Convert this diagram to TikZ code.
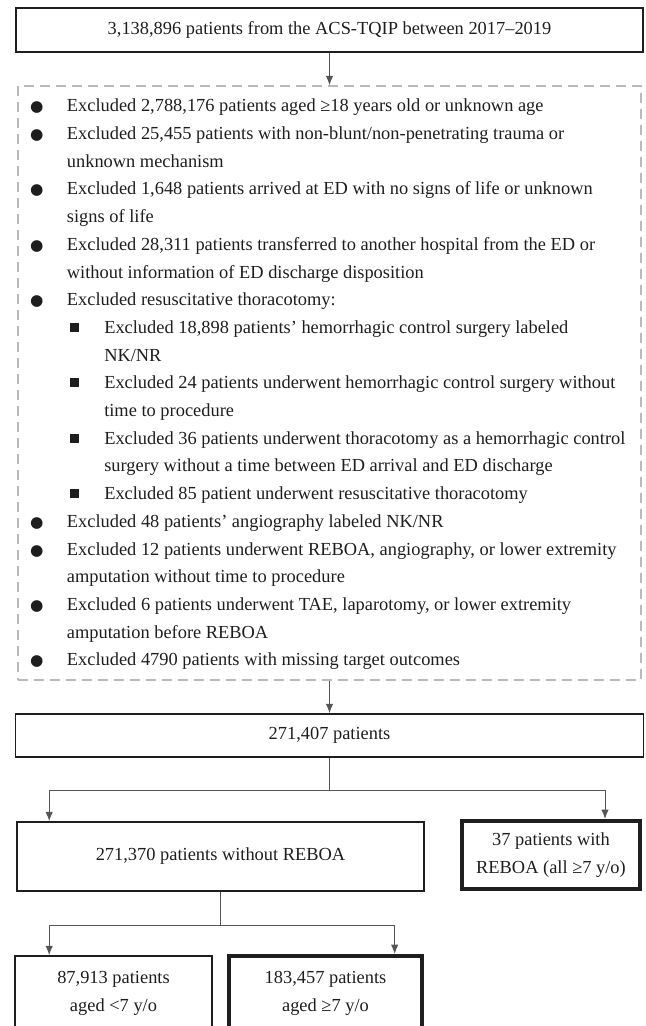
\documentclass[tikz,border=0pt]{standalone}
\usepackage{fontspec}
\setmainfont{Liberation Serif}
\newfontfamily\symfont{DejaVu Sans}
\usepackage{enumitem}
\usetikzlibrary{arrows.meta}

\definecolor{ink}{RGB}{30,30,30}
\definecolor{linegray}{RGB}{85,85,85}
\definecolor{dashgray}{RGB}{185,185,185}

\newcommand{\dotmark}{\makebox[8pt][c]{\symfont\fontsize{11.5}{12}\selectfont ●}}
\newcommand{\sqmark}{\makebox[8pt][c]{\rule[1pt]{6.8pt}{6.8pt}}}

\tikzset{
  box/.style={draw=ink, line width=1.2pt, rectangle, inner sep=0pt, align=center,
    text=ink, font={\fontsize{13.8}{21}\selectfont}},
  boldbox/.style={box, line width=3pt},
  exclbox/.style={draw=dashgray, line width=1.1pt, dash pattern=on 7.5pt off 4.5pt},
  link/.style={draw=linegray, line width=0.75pt},
  arr/.style={link, -{Latex[length=7pt,width=5.5pt]}},
}

\begin{document}
\begin{tikzpicture}[x=0.75pt, y={(0pt,-0.75pt)}]
  \useasboundingbox (0,0) rectangle (646,1026);

  % source and exclusions
  \node[box, minimum width=470pt, minimum height=33pt] (src) at (329.5,30)
    {3,138,896 patients from the ACS-TQIP between 2017–2019};
  \node[exclbox, minimum width=467.25pt, minimum height=445.5pt] (excl) at (329.5,383) {};
  \node[anchor=base west, inner sep=0pt, text=ink] (exlist) at (18,111.8) {%
    \begin{minipage}[t]{600pt}
      \fontsize{13.8}{20.775}\selectfont\raggedright
      \begin{itemize}[label=\dotmark, leftmargin=36.5pt, labelwidth=8pt, labelsep=18.5pt,
          align=left, topsep=0pt, itemsep=0pt, parsep=0pt, partopsep=0pt]
        \item Excluded 2,788,176 patients aged ≥18 years old or unknown age
        \item Excluded 25,455 patients with non-blunt/non-penetrating trauma or\\
          unknown mechanism
        \item Excluded 1,648 patients arrived at ED with no signs of life or unknown\\
          signs of life
        \item Excluded 28,311 patients transferred to another hospital from the ED or\\
          without information of ED discharge disposition
        \item Excluded resuscitative thoracotomy:
          \begin{itemize}[label=\sqmark, leftmargin=28pt, labelwidth=8pt, labelsep=18.5pt,
              align=left, topsep=0pt, itemsep=0pt, parsep=0pt, partopsep=0pt]
            \item Excluded 18,898 patients’ hemorrhagic control surgery labeled\\
              NK/NR
            \item Excluded 24 patients underwent hemorrhagic control surgery without\\
              time to procedure
            \item Excluded 36 patients underwent thoracotomy as a hemorrhagic control\\
              surgery without a time between ED arrival and ED discharge
            \item Excluded 85 patient underwent resuscitative thoracotomy
          \end{itemize}
        \item Excluded 48 patients’ angiography labeled NK/NR
        \item Excluded 12 patients underwent REBOA, angiography, or lower extremity\\
          amputation without time to procedure
        \item Excluded 6 patients underwent TAE, laparotomy, or lower extremity\\
          amputation before REBOA
        \item Excluded 4790 patients with missing target outcomes
      \end{itemize}
    \end{minipage}};

  % cohorts
  \node[box, minimum width=471pt, minimum height=32.25pt] (pool) at (329.5,735.5) {271,407 patients};
  \node[box, minimum width=305.25pt, minimum height=51.75pt] (noreb) at (220.5,856.5)
    {271,370 patients without REBOA};
  \node[boldbox, minimum width=133.5pt, minimum height=51pt] (reb) at (551,855)
    {37 patients with\\REBOA (all ≥7 y/o)};
  \node[box, minimum width=147.75pt, minimum height=55.5pt] (young) at (113.5,993)
    {87,913 patients\\aged <7 y/o};
  \node[boldbox, minimum width=144.75pt, minimum height=55.5pt] (old) at (325.5,993)
    {183,457 patients\\aged ≥7 y/o};

  % connectors
  \draw[arr] (src.south) -- (excl.north);
  \draw[arr] (excl.south) -- (pool.north);
  \coordinate (fork1) at ([yshift=-24.75pt]pool.south);
  \draw[link] (pool.south) -- (fork1);
  \draw[arr] (fork1) -| ([xshift=24.75pt]noreb.north west);
  \draw[arr] (fork1) -| ([xshift=40.5pt]reb.north);
  \coordinate (fork2) at ([yshift=-25.5pt]noreb.south);
  \draw[link] (noreb.south) -- (fork2);
  \draw[arr] (fork2) -| ([xshift=26.25pt]young.north west);
  \draw[arr] (fork2) -| ([xshift=-22pt]old.north east);
\end{tikzpicture}
\end{document}
